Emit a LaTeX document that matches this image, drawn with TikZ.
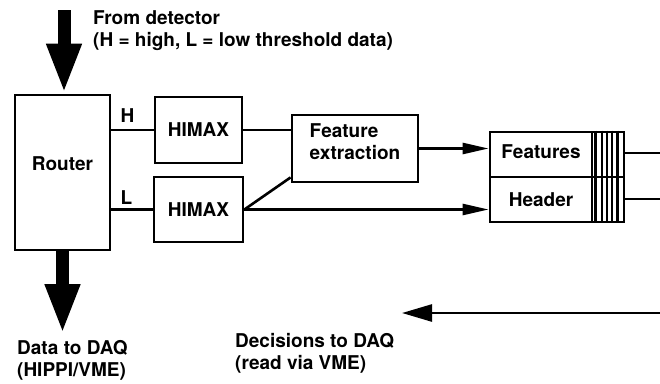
\documentclass[tikz,border=0pt]{standalone}
\usepackage{fontspec}
\setmainfont{TeX Gyre Heros}
\usetikzlibrary{arrows.meta}

\tikzset{
	blk/.style={draw, line width=2.8pt, inner sep=0pt},
	wire/.style={line width=2.6pt},
	feed/.style={wire, -{Triangle[length=26pt,width=11pt]}},
	fatarrow/.style={line width=13pt, -{Triangle[length=50pt,width=32pt]}},
	caption/.style={anchor=north west, align=left, inner sep=0pt},
}

\begin{document}
\begin{tikzpicture}[x=1pt, y=-1pt, font=\bfseries\fontsize{19}{22}\selectfont]
			%%%%% START %%%%%
			\useasboundingbox (0,0) rectangle (660,383);
			
			\node[blk, minimum width=95pt, minimum height=155pt, text depth=18pt] (router) at (62.5,172.5) {Router};
			\node[blk, minimum width=87pt, minimum height=66pt] (himaxH) at (198.5,130) {HIMAX};
			\node[blk, minimum width=89pt, minimum height=65pt] (himaxL) at (198.5,209.5) {HIMAX};
			\node[blk, minimum width=126pt, minimum height=67pt, align=left, text depth=14pt] (featx) at (355,148.5) {Feature\\extraction};
			\node[blk, minimum width=102pt, minimum height=45pt, text depth=6pt] (features) at (541,154.5) {Features};
			\node[blk, minimum width=102pt, minimum height=45pt] (header) at (541,199.5) {Header};
			\node[blk, minimum width=32pt, minimum height=90pt] (fifo) at (608,177) {};
			
			\draw[line width=3pt] ([xshift=5pt]fifo.north west) -- ([xshift=5pt]fifo.south west);
			\draw[line width=2pt] ([xshift=11pt]fifo.north west) -- ([xshift=11pt]fifo.south west);
			\draw[line width=2pt] ([xshift=16pt]fifo.north west) -- ([xshift=16pt]fifo.south west);
			\draw[line width=2pt] ([xshift=21pt]fifo.north west) -- ([xshift=21pt]fifo.south west);
			\draw[line width=3pt] ([xshift=27pt]fifo.north west) -- ([xshift=27pt]fifo.south west);
			\draw[wire] (fifo.west) -- (fifo.east);
			
			\draw[wire] (router.east |- himaxH.west) -- (himaxH.west);
			\node[anchor=south west, inner sep=0pt] (hlab) at ([xshift=9pt,yshift=7pt]router.east |- himaxH.west) {H};
			\draw[wire] (router.east |- himaxL.west) -- (himaxL.west);
			\node[anchor=south west, inner sep=0pt] (llab) at ([xshift=9pt,yshift=5pt]router.east |- himaxL.west) {L};
			
			\draw[wire] (himaxH.east) -- (himaxH.east -| featx.west);
			\draw[wire] (himaxL.east) -- ([yshift=6pt]featx.south west);
			\draw[feed] (himaxL.east) -- (himaxL.east -| header.west);
			\draw[feed] (featx.east) -- (featx.east -| features.west);
			
			\coordinate (outF) at (660,153);
			\coordinate (outH) at (660,199);
			\draw[wire] (fifo.east |- outF) -- (outF);
			\draw[wire] (fifo.east |- outH) -- (outH);
			
			\coordinate (decR) at (660,313);
			\coordinate (decL) at (402,313);
			\draw[wire, -{Triangle[length=30pt,width=17pt]}] (decR) -- (decL);
			
			\coordinate (detIn) at (64,10);
			\draw[fatarrow] (detIn) -- (detIn |- router.north);
			\coordinate (daqOut) at (63,334);
			\draw[fatarrow] (router.south) -- (router.south |- daqOut);
			
			\node[caption] (srcnote) at (93,10) {From detector\\(H = high, L = low threshold data)};
			\node[caption] (daqnote) at (17,340) {Data to DAQ\\(HIPPI/VME)};
			\node[caption] (decnote) at (235,333) {Decisions to DAQ\\(read via VME)};
			
			%%%%% END %%%%%
\end{tikzpicture}
\end{document}
